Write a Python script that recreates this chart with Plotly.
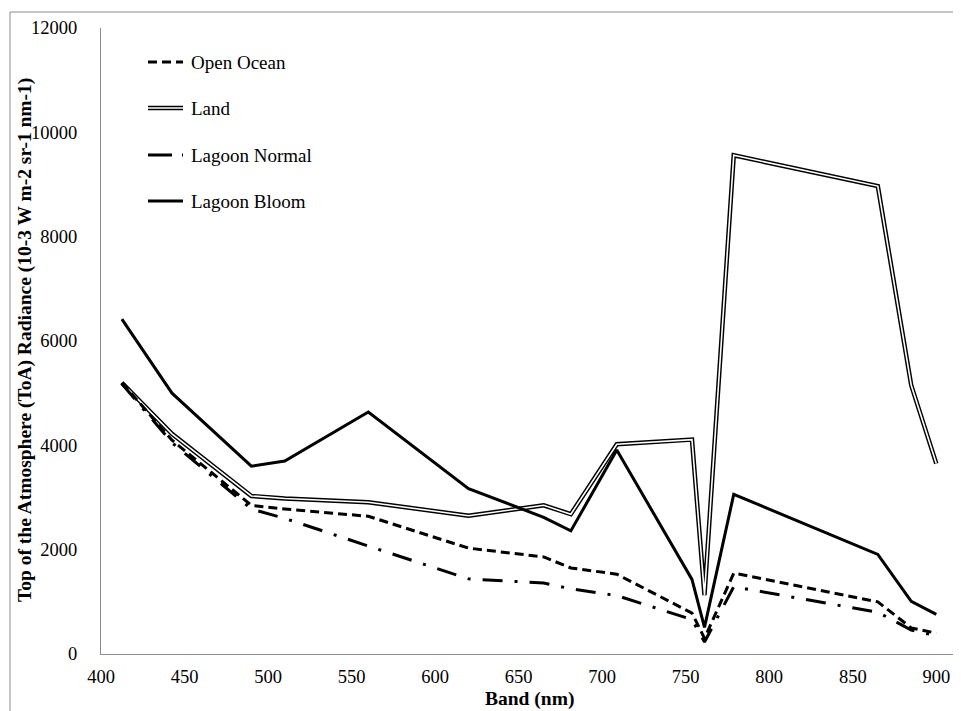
import plotly.graph_objects as go

bands = [412.5, 442.5, 490, 510, 560, 620, 665, 681.25, 708.75, 753.75, 761.25, 778.75, 865, 885, 900]
open_ocean = [5200, 4100, 2850, 2780, 2640, 2030, 1860, 1650, 1530, 785, 300, 1550, 1000, 500, 400]
land = [5200, 4220, 3030, 2980, 2910, 2650, 2850, 2680, 4020, 4110, 1130, 9560, 8970, 5150, 3650]
lagoon_normal = [5180, 4050, 2780, 2600, 2070, 1440, 1360, 1250, 1120, 660, 230, 1290, 800, 460, 350]
lagoon_bloom = [6420, 5000, 3600, 3700, 4640, 3170, 2620, 2360, 3910, 1430, 510, 3060, 1910, 1010, 760]

series_names = ["Open Ocean", "Land", "Lagoon Normal", "Lagoon Bloom"]
x_ticks = [400, 450, 500, 550, 600, 650, 700, 750, 800, 850, 900]
y_ticks = [0, 2000, 4000, 6000, 8000, 10000, 12000]
x_title = "Band (nm)"
y_title = "Top of the Atmosphere (ToA) Radiance (10-3 W m-2 sr-1 nm-1)"

FONT = "Liberation Serif, Times New Roman, serif"
DASH_OO = "9px,5px"
DASH_LN = "20px,12px,3px,12px"

fig = go.Figure()
# Land: double line (black wide + white thin)
fig.add_trace(go.Scatter(x=bands, y=land, mode="lines", line=dict(color="black", width=4.5),
                         showlegend=False, hoverinfo="skip"))
fig.add_trace(go.Scatter(x=bands, y=land, mode="lines", line=dict(color="white", width=1.6),
                         name=series_names[1], showlegend=False))
fig.add_trace(go.Scatter(x=bands, y=open_ocean, mode="lines", name=series_names[0],
                         line=dict(color="black", width=3, dash=DASH_OO), showlegend=False))
fig.add_trace(go.Scatter(x=bands, y=lagoon_normal, mode="lines", name=series_names[2],
                         line=dict(color="black", width=3, dash=DASH_LN), showlegend=False))
fig.add_trace(go.Scatter(x=bands, y=lagoon_bloom, mode="lines", name=series_names[3],
                         line=dict(color="black", width=3), showlegend=False))

# page has an 8px body margin; plot-area geometry in page pixels
OFF = 8
PL, PW, PT, PH = 101, 852, 28, 626
def px(x):
    return (x - PL) / PW
def py(y):
    return (PT + PH - y) / PH

leg_y = [62, 108, 155, 201]
shapes = []
annotations = []
styles = [
    [dict(color="black", width=3, dash=DASH_OO)],
    [dict(color="black", width=4.5), dict(color="white", width=1.6)],
    [dict(color="black", width=3, dash="24px,10px,3px,10px")],
    [dict(color="black", width=3)],
]
for name, yy, st in zip(series_names, leg_y, styles):
    for s in st:
        shapes.append(dict(type="line", xref="paper", yref="paper",
                           x0=px(148), x1=px(183), y0=py(yy), y1=py(yy), line=s))
    annotations.append(dict(text=name, xref="paper", yref="paper", x=px(189), y=py(yy),
                            xanchor="left", yanchor="middle", showarrow=False,
                            font=dict(family=FONT, size=19, color="black")))

# axis titles
annotations.append(dict(text="<b>%s</b>" % x_title, xref="paper", yref="paper",
                        x=px(529), y=py(699), xanchor="center", yanchor="middle",
                        showarrow=False, font=dict(family=FONT, size=19.5, color="black")))
annotations.append(dict(text="<b>%s</b>" % y_title, xref="paper", yref="paper",
                        x=px(25), y=py(340), xanchor="center", yanchor="middle", textangle=-90,
                        showarrow=False, font=dict(family=FONT, size=19.5, color="black")))

# outer frame
shapes.append(dict(type="rect", xref="paper", yref="paper", x0=px(10), x1=px(975),
                   y0=py(725), y1=py(12), line=dict(color="#8c8c8c", width=1),
                   fillcolor="rgba(0,0,0,0)", layer="below"))

W, H = 961 - OFF, 711 - OFF
fig.update_layout(
    width=W, height=H,
    margin=dict(l=PL - OFF, r=W - (PL + PW - OFF), t=PT - OFF, b=H - (PT + PH - OFF)),
    paper_bgcolor="white", plot_bgcolor="white",
    font=dict(family=FONT, size=18, color="black"),
    shapes=shapes, annotations=annotations,
    xaxis=dict(range=[400, 910], tickvals=x_ticks, ticktext=[str(t) for t in x_ticks],
               showgrid=False, zeroline=False, showline=True, linecolor="#8c8c8c", linewidth=1,
               ticks="", ticklabelstandoff=6, automargin=False,
               tickfont=dict(family=FONT, size=18.5)),
    yaxis=dict(range=[0, 12000], tickvals=y_ticks, ticktext=[str(t) for t in y_ticks],
               showgrid=False, zeroline=False, showline=True, linecolor="#8c8c8c", linewidth=1,
               ticks="", ticklabelstandoff=19, automargin=False,
               tickfont=dict(family=FONT, size=18.5)),
)

fig.write_html("out.html")
